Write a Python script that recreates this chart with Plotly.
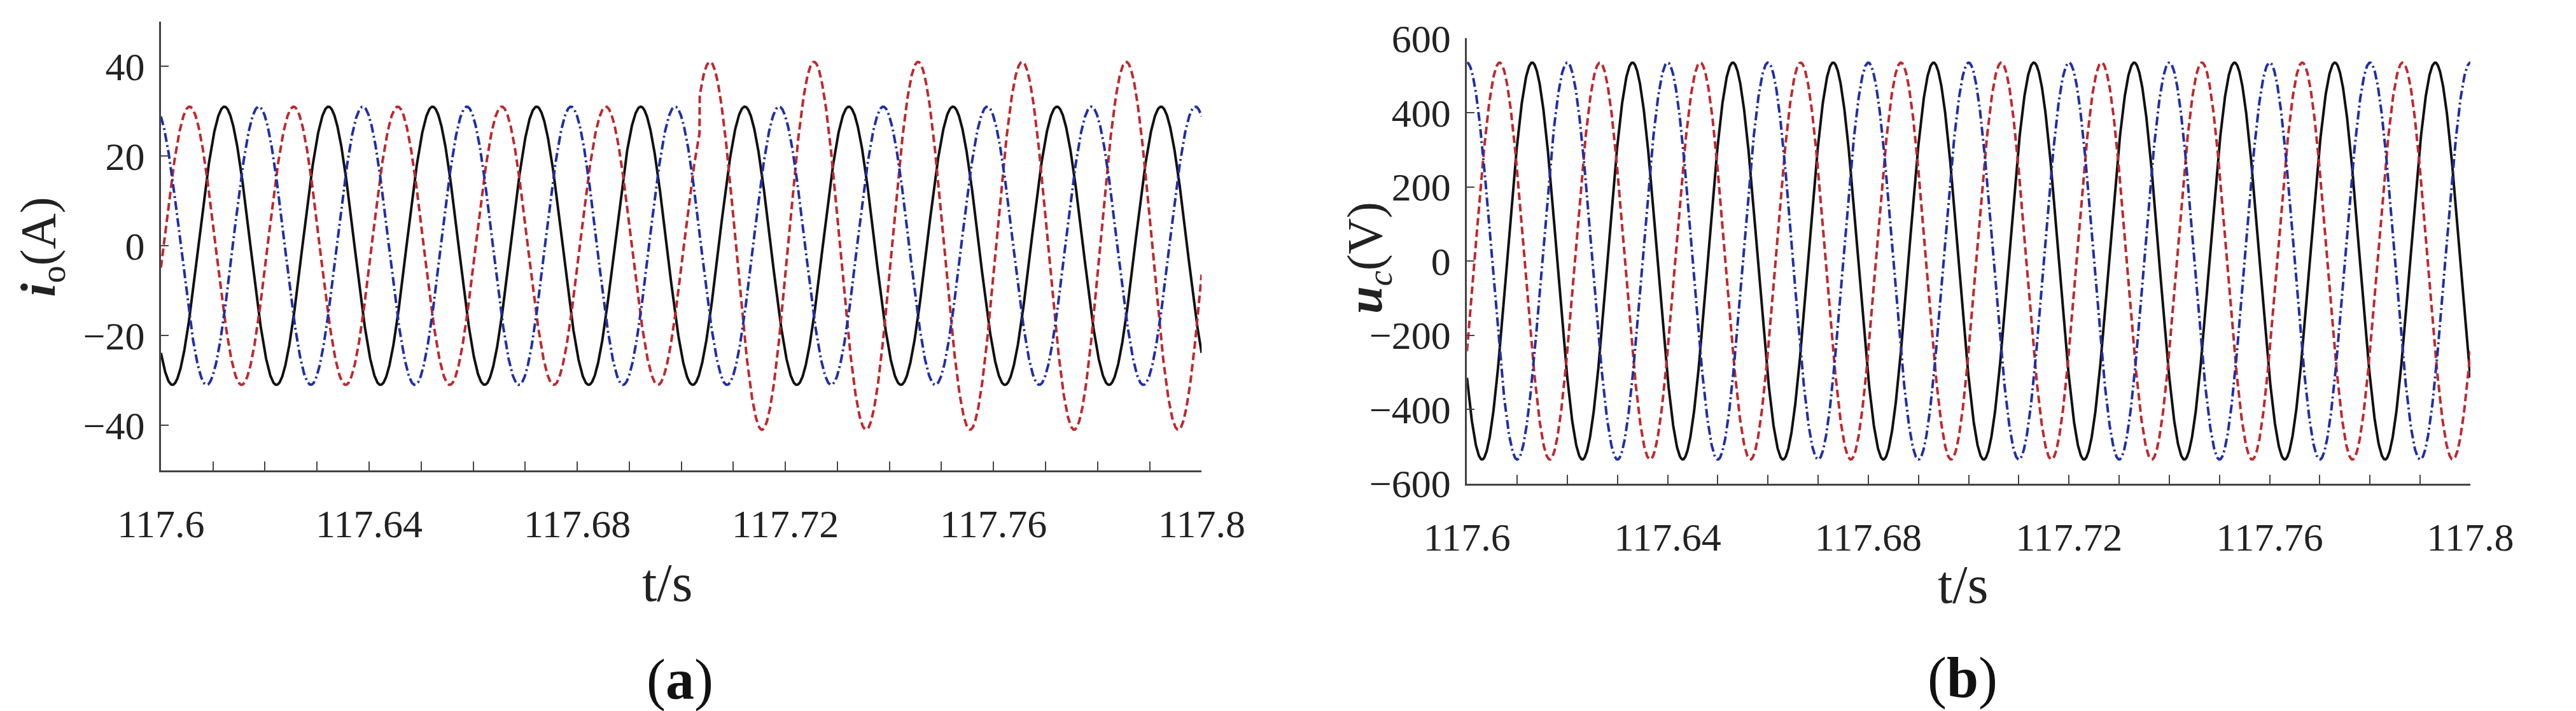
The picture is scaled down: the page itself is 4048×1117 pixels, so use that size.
import numpy as np
import plotly.graph_objects as go

# Read-off parameters (50 Hz three-phase waveforms)
freq_hz = 50.0
t_start, t_end = 117.6, 117.8
# panel (a) output current: peak times of each phase and amplitudes
a_peak_times = [117.6122, 117.6055, 117.6188]
a_amplitudes = [31.0, 31.0, 31.0]
a_red_fault_time = 117.7035
a_red_fault_amplitude = 41.0
# panel (b) capacitor voltage
b_peak_times = [117.6130, 117.6065, 117.6000]
b_amplitudes = [535.0, 535.0, 535.0]

x_major = [117.6, 117.64, 117.68, 117.72, 117.76, 117.8]
x_minor = [round(117.6 + 0.01 * i, 2) for i in range(21)]
a_yticks = [-40, -20, 0, 20, 40]
b_yticks = [-600, -400, -200, 0, 200, 400, 600]

t = np.linspace(t_start, t_end, 4001)

def wave(amp, tp):
    return amp * np.cos(2 * np.pi * freq_hz * (t - tp))

styles = [dict(color="#111111", dash="solid", width=4),
          dict(color="#c0282d", dash="12px,6px", width=4),
          dict(color="#1f2fa8", dash="14px,5px,3px,5px", width=4)]

fig = go.Figure()
for i in range(3):
    y = wave(a_amplitudes[i], a_peak_times[i])
    if i == 1:
        y = np.where(t >= a_red_fault_time, wave(a_red_fault_amplitude, a_peak_times[i]), y)
    fig.add_trace(go.Scatter(x=t, y=y, mode="lines", line=styles[i], xaxis="x", yaxis="y", showlegend=False))
for i in range(3):
    y = wave(b_amplitudes[i], b_peak_times[i])
    fig.add_trace(go.Scatter(x=t, y=y, mode="lines", line=styles[i], xaxis="x2", yaxis="y2", showlegend=False))

font = dict(family="Liberation Serif", size=62, color="#222")
ticktext = [f"{v:g}" if any(abs(v - m) < 1e-9 for m in x_major) else "" for v in x_minor]
xcommon = dict(range=[t_start, t_end], tickvals=x_minor, ticktext=ticktext, ticks="inside", ticklen=14,
               tickwidth=2, showline=True, linecolor="#444", linewidth=3, showgrid=False, zeroline=False,
               tickfont=font, ticklabelstandoff=28, automargin=False)
ycommon = dict(ticks="inside", ticklen=12, tickwidth=2, showline=True, linecolor="#444", linewidth=3,
               showgrid=False, zeroline=False, tickfont=font, ticklabelstandoff=10, automargin=False)

fig.update_layout(
    width=4048, height=1117, margin=dict(l=0, r=0, t=0, b=0),
    paper_bgcolor="white", plot_bgcolor="white",
    xaxis=dict(xcommon, domain=[0.0605, 0.4645], anchor="y"),
    yaxis=dict(ycommon, domain=[0.346, 0.977], range=[-50, 50], tickvals=a_yticks, anchor="x"),
    xaxis2=dict(xcommon, domain=[0.5675, 0.957], anchor="y2"),
    yaxis2=dict(ycommon, domain=[0.327, 0.953], range=[-600, 600], tickvals=b_yticks, anchor="x2"),
)

lab = dict(family="Liberation Serif", size=84, color="#222")
ylab = dict(family="Liberation Serif", size=78, color="#222")
ann = [
    dict(text="t/s", x=0.257, y=1 - 907 / 1117, font=lab),
    dict(text="t/s", x=0.76, y=1 - 910 / 1117, font=lab),
    dict(text="(<b>a</b>)", x=0.262, y=1 - 1060 / 1117, font=dict(family="Liberation Serif", size=90, color="#111")),
    dict(text="(<b>b</b>)", x=0.76, y=1 - 1057 / 1117, font=dict(family="Liberation Serif", size=90, color="#111")),
    dict(text="<b><i>i</i></b><sub>o</sub>(A)", x=0.014, y=0.66, textangle=-90, font=ylab),
    dict(text="<b><i>u</i></b><sub><i>c</i></sub>(V)", x=0.529, y=0.645, textangle=-90, font=ylab),
]
for a in ann:
    a.update(xref="paper", yref="paper", showarrow=False, xanchor="center", yanchor="middle")
fig.update_layout(annotations=ann)
fig.write_html("out.html")
